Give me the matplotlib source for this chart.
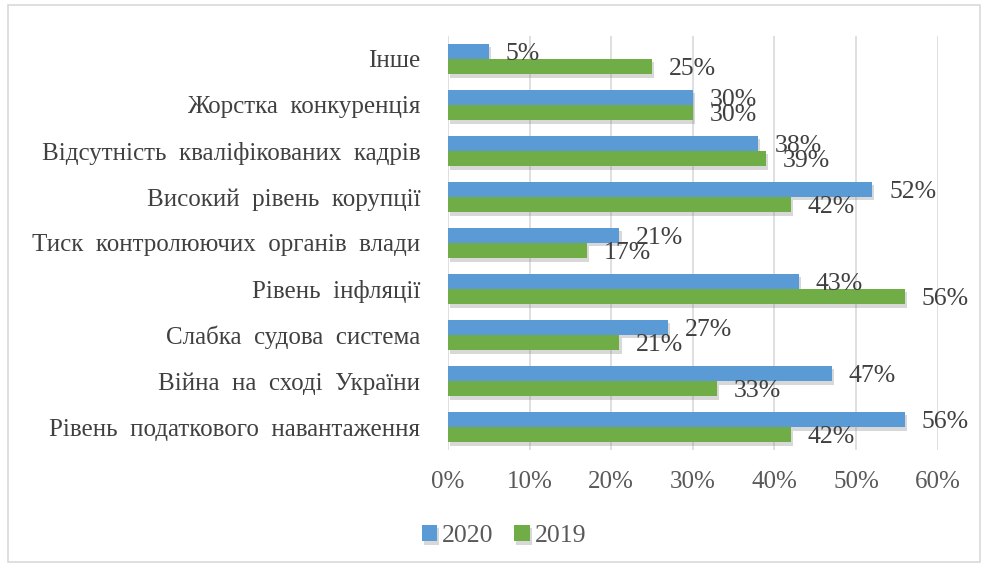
import numpy as np
import matplotlib.pyplot as plt
import matplotlib.patheffects as pe
from matplotlib.patches import Rectangle

categories = ["Інше", "Жорстка  конкуренція", "Відсутність  кваліфікованих  кадрів",
              "Високий  рівень  корупції", "Тиск  контролюючих  органів  влади",
              "Рівень  інфляції", "Слабка  судова  система", "Війна  на  сході  України",
              "Рівень  податкового  навантаження"]
v2020 = [5, 30, 38, 52, 21, 43, 27, 47, 56]
v2019 = [25, 30, 39, 42, 17, 56, 21, 33, 42]
xticks = [0, 10, 20, 30, 40, 50, 60]

plt.rcParams['font.family'] = ['Liberation Serif', 'DejaVu Serif']

fig = plt.figure(figsize=(9.87, 5.69), dpi=100)
ax = fig.add_axes([0.454, 0.209, 0.496, 0.728])

# chart border
fig.patches.append(Rectangle((8/987, 1-562/569), 972/987, 557/569, transform=fig.transFigure,
                             fill=False, edgecolor='#D9D9D9', linewidth=1.2))

n = len(categories)
y = np.arange(n)[::-1]
h = 0.33
shadow = [pe.SimplePatchShadow(offset=(1.5, -2.5), shadow_rgbFace='#7f7f7f', alpha=0.3), pe.Normal()]

b1 = ax.barh(y + h/2, v2020, height=h, color='#5B9BD5', label='2020', zorder=3)
b2 = ax.barh(y - h/2, v2019, height=h, color='#70AD47', label='2019', zorder=3)
for b in list(b1) + list(b2):
    b.set_path_effects(shadow)

for yi, v in zip(y + h/2, v2020):
    ax.annotate(f"{v}%", (v, yi), xytext=(12, -2), textcoords='offset points',
                va='center', ha='left', fontsize=18.5, color='#404040', zorder=4)
for yi, v in zip(y - h/2, v2019):
    ax.annotate(f"{v}%", (v, yi), xytext=(12, -2), textcoords='offset points',
                va='center', ha='left', fontsize=18.5, color='#404040', zorder=4)

ax.set_xlim(0, 60)
ax.set_ylim(-0.5, n - 0.5)
ax.set_xticks(xticks)
ax.set_xticklabels([f"{t}%" for t in xticks], fontsize=18, color='#595959')
ax.set_yticks(y)
ax.set_yticklabels(categories, fontsize=18, color='#404040')
ax.tick_params(length=0, pad=15, axis='x')
ax.tick_params(length=0, pad=20, axis='y')
ax.grid(axis='x', color='#D9D9D9', linewidth=1.2, zorder=0)
for s in ax.spines.values():
    s.set_visible(False)

fig.legend(handles=[b1, b2], loc='center', bbox_to_anchor=(504/987, 1-536/569), ncol=2,
           frameon=False, fontsize=18.5, handlelength=0.6, handleheight=0.6,
           handletextpad=0.2, columnspacing=0.8, labelcolor='#595959')

fig.savefig("out.png", dpi=100)
